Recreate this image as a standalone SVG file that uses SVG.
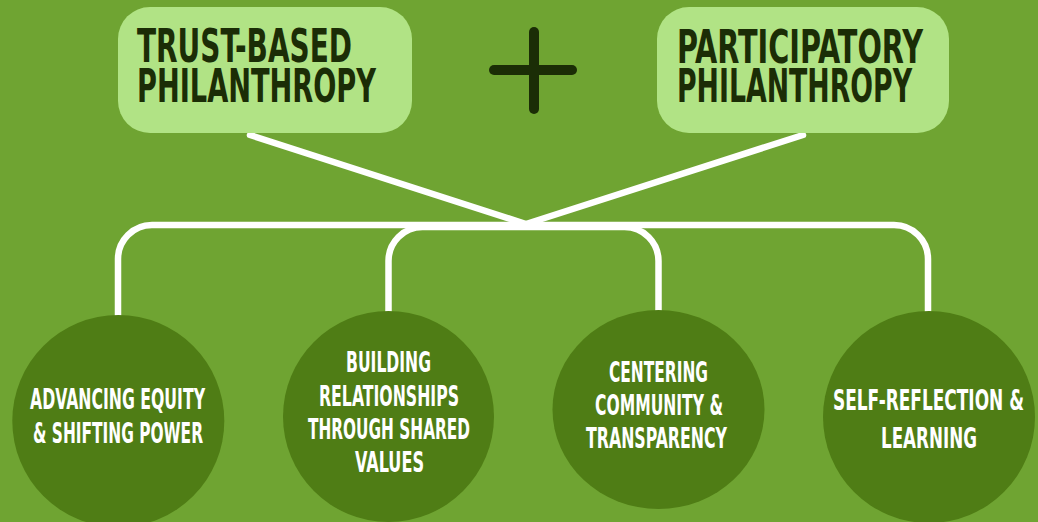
<svg xmlns="http://www.w3.org/2000/svg" width="1038" height="522" viewBox="0 0 1038 522">
  <style>
    .box { fill: #B1E385; }
    .title { font-family: "Liberation Sans Narrow", "DejaVu Sans Condensed", "Liberation Sans", sans-serif; font-weight: bold; font-size: 47px; fill: #1B2D06; }
    .circ { fill: #4F7D15; }
    .lbl { font-family: "Liberation Sans Narrow", "DejaVu Sans Condensed", "Liberation Sans", sans-serif; font-weight: bold; font-size: 29px; fill: #FFFFFF; text-anchor: middle; }
    .conn { fill: none; stroke: #FFFFFF; stroke-width: 6.5; }
    .plus { stroke: #1B2D06; stroke-width: 10; stroke-linecap: round; fill: none; }
  </style>
  <rect x="0" y="0" width="1038" height="522" fill="#6FA432"/>

  <g id="connectors">
    <line class="conn" x1="250" y1="135" x2="526" y2="224" stroke-linecap="round"/>
    <line class="conn" x1="803" y1="135" x2="526" y2="224" stroke-linecap="round"/>
    <path class="conn" d="M118,318 V259 A34,34 0 0 1 152,225 H894 A34,34 0 0 1 928,259 V314"/>
    <path class="conn" d="M388.5,314 V261 A34,34 0 0 1 422.5,227 H624.5 A34,34 0 0 1 658.5,261 V313"/>
  </g>

  <g id="trust-based">
    <rect class="box" x="118" y="7" width="294" height="126" rx="32"/>
    <text class="title" x="137" y="62" textLength="215" lengthAdjust="spacingAndGlyphs">TRUST-BASED</text>
    <text class="title" x="137" y="102" textLength="239" lengthAdjust="spacingAndGlyphs">PHILANTHROPY</text>
  </g>

  <g id="plus">
    <line class="plus" x1="534" y1="32" x2="534" y2="109"/>
    <line class="plus" x1="494" y1="70" x2="572" y2="70"/>
  </g>

  <g id="participatory">
    <rect class="box" x="657" y="7" width="292" height="126" rx="32"/>
    <text class="title" x="677" y="63" textLength="246" lengthAdjust="spacingAndGlyphs">PARTICIPATORY</text>
    <text class="title" x="677" y="102" textLength="235" lengthAdjust="spacingAndGlyphs">PHILANTHROPY</text>
  </g>

  <g id="equity">
    <circle class="circ" cx="118.3" cy="421" r="106"/>
    <text class="lbl" x="117.5" y="409" textLength="175" lengthAdjust="spacingAndGlyphs">ADVANCING EQUITY</text>
    <text class="lbl" x="118" y="443" textLength="170" lengthAdjust="spacingAndGlyphs">&amp; SHIFTING POWER</text>
  </g>

  <g id="relationships">
    <circle class="circ" cx="388.5" cy="416.5" r="105.5"/>
    <text class="lbl" x="388.5" y="372" textLength="85" lengthAdjust="spacingAndGlyphs">BUILDING</text>
    <text class="lbl" x="389" y="406" textLength="140" lengthAdjust="spacingAndGlyphs">RELATIONSHIPS</text>
    <text class="lbl" x="389" y="439" textLength="162" lengthAdjust="spacingAndGlyphs">THROUGH SHARED</text>
    <text class="lbl" x="389.5" y="472" textLength="69" lengthAdjust="spacingAndGlyphs">VALUES</text>
  </g>

  <g id="community">
    <ellipse class="circ" cx="658.5" cy="409.5" rx="106" ry="99.5"/>
    <text class="lbl" x="658.5" y="382" textLength="99" lengthAdjust="spacingAndGlyphs">CENTERING</text>
    <text class="lbl" x="659" y="415" textLength="128" lengthAdjust="spacingAndGlyphs">COMMUNITY &amp;</text>
    <text class="lbl" x="656.5" y="448" textLength="141" lengthAdjust="spacingAndGlyphs">TRANSPARENCY</text>
  </g>

  <g id="self-reflection">
    <circle class="circ" cx="929" cy="417" r="106"/>
    <text class="lbl" x="928.5" y="410" textLength="191" lengthAdjust="spacingAndGlyphs">SELF-REFLECTION &amp;</text>
    <text class="lbl" x="929" y="448" textLength="96" lengthAdjust="spacingAndGlyphs">LEARNING</text>
  </g>
</svg>
